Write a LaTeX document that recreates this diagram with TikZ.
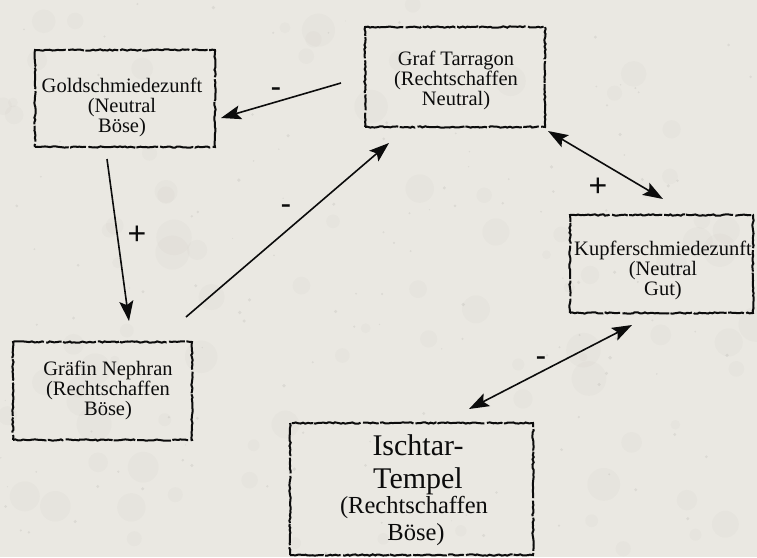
\documentclass[tikz,border=0pt]{standalone}
\usepackage{fontspec}
\setmainfont{Liberation Serif}
\newfontfamily\signfont{Liberation Sans}
\usetikzlibrary{arrows.meta,calc,decorations.pathmorphing}
\definecolor{parch}{RGB}{234,232,226}
\definecolor{ink}{RGB}{12,12,12}
\begin{document}
\begin{tikzpicture}[x=1pt,y=-1pt,
  stampbox/.style={draw=ink, line width=2pt, rectangle, inner sep=0pt,
    decorate, decoration={random steps,segment length=2.5pt,amplitude=0.7pt},
    dash pattern=on 34pt off 1.5pt on 16pt off 2.5pt on 48pt off 1pt on 22pt off 2pt},
  txt/.style={align=center, inner sep=0pt, text=ink, font=\fontsize{20.5}{20}\selectfont},
  bigtxt/.style={inner sep=0pt, text=ink, anchor=base, font=\fontsize{30}{30}\selectfont},
  midtxt/.style={inner sep=0pt, text=ink, anchor=base, font=\fontsize{24.5}{25}\selectfont},
  sign/.style={inner sep=0pt, text=ink, anchor=base, font=\signfont\fontsize{32}{32}\selectfont},
  tip/.tip={Stealth[length=20pt,width=14pt,inset=4pt]},
  arr/.style={draw=ink, line width=1.6pt, -tip},
  dbl/.style={draw=ink, line width=1.6pt, tip-tip}
]
\pgfmathsetseed{7}
\fill[parch] (0,0) rectangle (757,557);
\useasboundingbox (0,0) rectangle (757,557);
% faint paper texture
\foreach \i in {1,...,90} {
  \fill[black!60!olive, opacity=0.018] ({rnd*757},{rnd*557}) circle ({rnd*14+4});
}
\foreach \i in {1,...,140} {
  \fill[black, opacity=0.06] ({rnd*757},{rnd*557}) circle ({rnd*1.4+0.5});
}

% boxes
\node[stampbox, minimum width=180pt, minimum height=97pt] (goldbox) at (125,98.5) {};
\node[stampbox, minimum width=180pt, minimum height=100pt] (grafbox) at (455,77) {};
\node[stampbox, minimum width=183pt, minimum height=98pt] (kupbox) at (661.5,264) {};
\node[stampbox, minimum width=179pt, minimum height=98pt] (grafinbox) at (102.5,391) {};
\node[stampbox, minimum width=243pt, minimum height=132pt] (ischbox) at (411.5,489) {};

% texts
\node[txt] (goldtxt) at (122,107) {Goldschmiedezunft\\(Neutral\\Böse)};
\node[txt] (graftxt) at (456,80) {Graf Tarragon\\(Rechtschaffen\\Neutral)};
\node[txt] (kuptxt) at (663,270) {Kupferschmiedezunft\\(Neutral\\Gut)};
\node[txt] (grafintxt) at (108,390) {Gräfin Nephran\\(Rechtschaffen\\Böse)};
\node[bigtxt] (ischA) at (418,455) {Ischtar-};
\node[bigtxt] (ischB) at (418,488) {Tempel};
\node[midtxt] (ischC) at (414,513) {(Rechtschaffen};
\node[midtxt] (ischD) at (416,540) {Böse)};

% connectors
\draw[arr] ($(grafbox.west)+(-23,6)$) -- ($(goldbox.east)+(5,19.5)$);
\draw[arr] ($(goldbox.south)+(-18,11)$) -- ($(grafinbox.north)+(26.5,-20)$);
\draw[arr] ($(grafinbox.north east)+(-7,-24)$) -- ($(grafbox.south west)+(25,15)$);
\draw[dbl] ($(grafbox.south east)+(2,3)$) -- ($(kupbox.north)+(1.5,-15)$);
\draw[dbl] ($(kupbox.south)+(-29.5,11)$) -- ($(ischbox.north)+(57.5,-13)$);

% signs
\node[sign] (s1) at (276,97) {-};
\node[sign] (s2) at (137,244) {+};
\node[sign] (s3) at (286,214) {-};
\node[sign] (s4) at (598,196) {+};
\node[sign] (s5) at (541,366) {-};
\end{tikzpicture}
\end{document}
